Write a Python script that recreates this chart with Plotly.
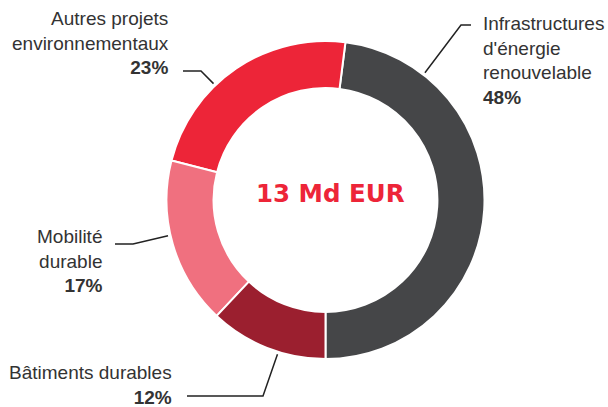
import math
import plotly.graph_objects as go

# Allocation of the green bond proceeds (13 Md EUR)
categories = [
    "Infrastructures<br>d'énergie<br>renouvelable",
    "Autres projets<br>environnementaux",
    "Mobilité<br>durable",
    "Bâtiments durables",
]
shares = [48, 23, 17, 12]
colors = ["#454648", "#ED2538", "#F0707F", "#9B1F2F"]
total_label = "13 Md EUR"

W, H = 608, 407
CX, CY, R = 325.5, 200.0, 159.0
HOLE = 0.704


def px(x):
    return x / W


def py(y):
    return 1 - y / H


# first slice runs from 6 o'clock up the right-hand side; the rest follow anticlockwise
first_share_deg = 360 * shares[0] / sum(shares)
rotation = 180 - first_share_deg

fig = go.Figure(
    go.Pie(
        values=shares,
        labels=[c.replace("<br>", " ") for c in categories],
        marker=dict(colors=colors, line=dict(color="white", width=2)),
        hole=HOLE,
        sort=False,
        direction="counterclockwise",
        rotation=rotation,
        textinfo="none",
        hoverinfo="label+percent",
        showlegend=False,
        domain=dict(x=[px(CX - R), px(CX + R)], y=[py(CY + R), py(CY - R)]),
    )
)

# label block: (anchor x, block centre y, xanchor), leader elbow and ring angle
label_layout = [
    dict(x=481, y=61, xanchor="left", start=(471, 25), elbow=(461, 25), angle=38.0),
    dict(x=171, y=42.5, xanchor="right", start=(183, 71), elbow=(201, 71), angle=-43.9),
    dict(x=105, y=261, xanchor="right", start=(115, 244), elbow=(133, 244), angle=-102.8),
    dict(x=174, y=385, xanchor="right", start=(187, 396), elbow=(263, 396), angle=-162.7),
]

text_font = dict(family="Liberation Sans, Arial, sans-serif", size=19, color="#333333")
annotations = []
shapes = []
for cat, val, lay in zip(categories, shares, label_layout):
    annotations.append(
        dict(
            text=f"{cat}<br><b>{val}%</b>",
            x=px(lay["x"]), y=py(lay["y"]),
            xref="paper", yref="paper",
            xanchor=lay["xanchor"], yanchor="middle",
            align=lay["xanchor"],
            showarrow=False,
            font=text_font,
        )
    )
    a = math.radians(lay["angle"])
    r_end = R + 2.5
    ex, ey = CX + r_end * math.sin(a), CY - r_end * math.cos(a)
    pts = [lay["start"], lay["elbow"], (ex, ey)]
    path = "M " + " L ".join(f"{px(x):.5f},{py(y):.5f}" for x, y in pts)
    shapes.append(
        dict(type="path", path=path, xref="paper", yref="paper",
             line=dict(color="#222222", width=1.5))
    )

annotations.append(
    dict(
        text=f"<b>{total_label}</b>",
        x=px(330), y=py(193.5),
        xref="paper", yref="paper",
        xanchor="center", yanchor="middle",
        showarrow=False,
        font=dict(family="DejaVu Sans, sans-serif", size=24.5, color="#ED2538"),
    )
)

fig.update_layout(
    width=W, height=H,
    margin=dict(l=0, r=0, t=0, b=0),
    paper_bgcolor="white",
    plot_bgcolor="white",
    annotations=annotations,
    shapes=shapes,
)

fig.write_html("out.html", config={"displayModeBar": False})
